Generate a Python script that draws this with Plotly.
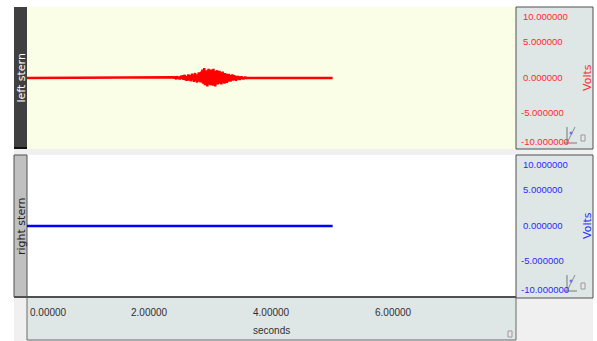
import plotly.graph_objects as go

# ---------------- data ----------------
channel_names = ["left stern", "right stern"]
x_tick_vals = [0, 2, 4, 6]
x_tick_text = ["0.00000", "2.00000", "4.00000", "6.00000"]
y_tick_vals = [10, 5, 0, -5, -10]
y_tick_text = ["10.000000", "5.000000", "0.000000", "-5.000000", "-10.000000"]
x_label = "seconds"
y_label = "Volts"

record_start = 0.0
record_end = 5.0
burst_start = 2.40
burst_dt = 0.01
burst_values = [
    0.1, -0.05, 0.2, 0.0, -0.15, 0.05, 0.25, -0.1, 0.0, 0.15, -0.2, 0.1, 0.3, -0.1, 0.05,
    0.35, -0.25, 0.1, 0.45, -0.3, 0.2, -0.4, 0.3, -0.1, 0.5, -0.35, 0.15, 0.4, -0.45, 0.25,
    0.6, -0.3, 0.45, -0.55, 0.2, 0.7, -0.4, 0.35, -0.65, 0.5, -0.2, 0.8, -0.5, 0.3, -0.6,
    0.9, -0.4, 1.2, -0.8, 0.5, 1.4, -1.0, 0.7, -0.6, 1.1, -1.2, 0.4, 1.3, -0.9, 0.8,
    -1.0, 1.2, -0.5, 0.9, -1.1, 1.3, -0.7, 0.6, -1.2, 1.0, -0.4, 1.1, -0.9, 0.5, -0.8,
    1.0, -0.6, 0.8, -0.9, 0.4, 0.9, -0.7, 0.5, -0.8, 0.7, -0.3, 0.6, -0.7, 0.4, -0.5,
    0.6, -0.4, 0.3, -0.5, 0.45, -0.2, 0.5, -0.35, 0.2, 0.4, -0.3, 0.25, -0.4, 0.3, -0.15,
    0.3, -0.2, 0.15, -0.3, 0.2, -0.1, 0.25, -0.15, 0.1, -0.2, 0.15, -0.05, 0.2, -0.1, 0.0,
]
left_t = [record_start] + [round(burst_start + i * burst_dt, 3) for i in range(len(burst_values))] + [record_end]
left_v = [0.0] + burst_values + [0.0]
right_t = [record_start, record_end]
right_v = [0.0, 0.0]

# ---------------- layout helpers ----------------
W, H = 597, 341
def px(x): return x / W
def py(y): return 1 - y / H

NARROW = "Liberation Sans, Arial, sans-serif"
SANS = "DejaVu Sans, Verdana, sans-serif"

shapes = []
def rect(x0, y0, x1, y1, fill, line=None, lw=1, layer="below"):
    shapes.append(dict(type="rect", xref="paper", yref="paper",
                       x0=px(x0), x1=px(x1), y0=py(y1), y1=py(y0),
                       fillcolor=fill, line=dict(color=line or fill, width=lw if line else 0),
                       layer=layer))
def seg(x0, y0, x1, y1, color, lw=1, layer="above"):
    shapes.append(dict(type="line", xref="paper", yref="paper",
                       x0=px(x0), x1=px(x1), y0=py(y0), y1=py(y1),
                       line=dict(color=color, width=lw), layer=layer))

# gray control background
rect(14, 7, 593, 341, "#f0f0f0")
# plot backgrounds
rect(27, 7, 516, 149, "#fbfee6")
rect(27, 155, 516, 297, "#ffffff")
# right scale panels
rect(516, 7, 593, 149, "#dfe6e6", "#505050", 1)
rect(516, 155, 593, 298, "#dfe6e6", "#505050", 1)
# x scale panel
rect(27, 297, 516, 340, "#dfe6e6", "#6a6a6a", 1)
seg(14, 297, 516, 297, "#505050", 2)
# left name strips
rect(14, 7, 27, 149, "#404040")
seg(14, 148, 27, 148, "#101010", 2)
rect(14, 155, 27, 297, "#c0c0c0", "#505050", 1)

# icons (axis tool + lock) in scale panels
for oy in (0, 148):
    seg(567, 127 + oy, 567, 144 + oy, "#8a8a8a", 1.2)
    seg(564, 143 + oy, 577, 143 + oy, "#8a8a8a", 1.2)
    seg(568, 141 + oy, 575, 127 + oy, "#8a8a8a", 1)
    shapes.append(dict(type="circle", xref="paper", yref="paper",
                       x0=px(569.5), x1=px(572.5), y0=py(134.5 + oy), y1=py(131.5 + oy),
                       fillcolor="#7070ff", line=dict(width=0), layer="above"))
    rect(581, 135 + oy, 585, 141 + oy, "#e8e8e8", "#9a9a9a", 1, layer="above")
rect(508, 331, 512, 337, "#e8e8e8", "#9a9a9a", 1, layer="above")

fig = go.Figure()
fig.add_trace(go.Scatter(x=left_t, y=left_v, mode="lines",
                         line=dict(color="#ff0000", width=2.5), xaxis="x", yaxis="y",
                         name=channel_names[0], showlegend=False))
fig.add_trace(go.Scatter(x=right_t, y=right_v, mode="lines",
                         line=dict(color="#0000ff", width=2.5), xaxis="x2", yaxis="y2",
                         name=channel_names[1], showlegend=False))

ax = dict(range=[0, 8], showgrid=False, zeroline=False, showticklabels=False,
          ticks="", showline=False, domain=[px(27), px(516)], fixedrange=True)
ay = dict(range=[-10, 10], showgrid=False, zeroline=False, showticklabels=False,
          ticks="", showline=False, fixedrange=True)

annotations = []
# x tick labels
for v, t in zip(x_tick_vals, x_tick_text):
    annotations.append(dict(x=v, y=py(312), xref="x2", yref="paper", text=t,
                            showarrow=False, xanchor="left" if v == 0 else "center",
                            yanchor="middle", xshift=1 if v == 0 else 0,
                            font=dict(family=NARROW, size=10, color="#303030")))
annotations.append(dict(x=4, y=py(330), xref="x2", yref="paper", text=x_label,
                        showarrow=False, xanchor="center", yanchor="middle",
                        font=dict(family=NARROW, size=10, color="#303030")))
# y tick labels & titles
for yref, color in (("y", "#ff2a2a"), ("y2", "#2a2aff")):
    for v, t in zip(y_tick_vals, y_tick_text):
        if v == 10:
            anc, sh = "top", -2
        elif v == -10:
            anc, sh = "bottom", 0
        else:
            anc, sh = "middle", 1
        annotations.append(dict(x=px(519 if v < 0 else 521), y=v, xref="paper", yref=yref,
                                text=t, showarrow=False, xanchor="left", yanchor=anc,
                                yshift=sh, font=dict(family=NARROW, size=9.5, color=color)))
    annotations.append(dict(x=px(587), y=0, xref="paper", yref=yref, text=y_label,
                            showarrow=False, textangle=-90, xanchor="center", yanchor="middle",
                            font=dict(family=SANS, size=11, color=color)))
# channel names
annotations.append(dict(x=px(20.5), y=py(78), xref="paper", yref="paper", text=channel_names[0],
                        showarrow=False, textangle=-90, xanchor="center", yanchor="middle",
                        font=dict(family=SANS, size=11, color="#ffffff")))
annotations.append(dict(x=px(21), y=py(227), xref="paper", yref="paper", text=channel_names[1],
                        showarrow=False, textangle=-90, xanchor="center", yanchor="middle",
                        font=dict(family=SANS, size=11, color="#202020")))

fig.update_layout(
    width=W, height=H, margin=dict(l=0, r=0, t=0, b=0),
    paper_bgcolor="#ffffff", plot_bgcolor="rgba(0,0,0,0)",
    xaxis=dict(ax, anchor="y"),
    yaxis=dict(ay, anchor="x", domain=[py(149), py(7)]),
    xaxis2=dict(ax, anchor="y2"),
    yaxis2=dict(ay, anchor="x2", domain=[py(297), py(155)]),
    shapes=shapes, annotations=annotations, showlegend=False,
)

fig.write_html("out.html")
